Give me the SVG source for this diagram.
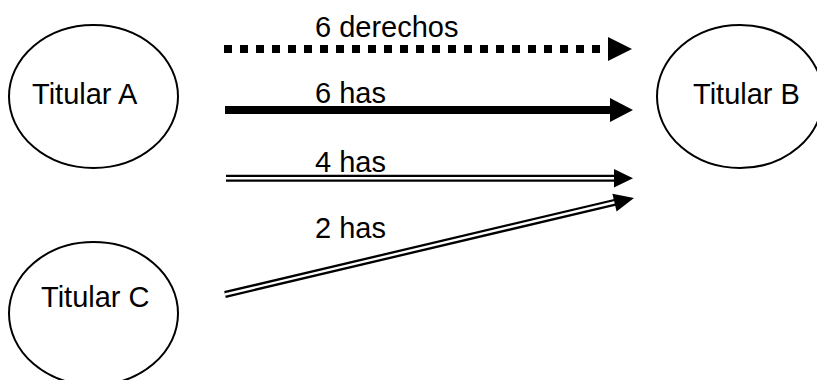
<svg xmlns="http://www.w3.org/2000/svg" width="817" height="380" viewBox="0 0 817 380">
  <style>
    .node ellipse { fill: #ffffff; stroke: #000000; stroke-width: 2; }
    .label { font-family: "Liberation Sans", Arial, sans-serif; font-size: 29px; fill: #000000; }
    .head { fill: #000000; stroke: none; }
    .dbl-outer { stroke: #000000; stroke-width: 7; fill: none; }
    .dbl-inner { stroke: #ffffff; stroke-width: 2.4; fill: none; }
  </style>
  <rect x="0" y="0" width="817" height="380" fill="#ffffff"/>
  <g id="node-titular-a" class="node">
    <ellipse cx="93.5" cy="96.5" rx="84.5" ry="71.5"/>
    <text class="label" x="32" y="104">Titular A</text>
  </g>
  <g id="node-titular-b" class="node">
    <ellipse cx="740" cy="96.5" rx="83" ry="71.5"/>
    <text class="label" x="693" y="104">Titular B</text>
  </g>
  <g id="node-titular-c" class="node">
    <ellipse cx="93.5" cy="313.5" rx="84.5" ry="71.5"/>
    <text class="label" x="41" y="307">Titular C</text>
  </g>
  <g id="connectors">
    <g id="edge-derechos">
      <line x1="224" y1="49" x2="600" y2="49" stroke="#000000" stroke-width="8" stroke-dasharray="8 8"/>
      <polygon class="head" points="608,37 632,49 608,61"/>
      <text class="label" x="315" y="37">6 derechos</text>
    </g>
    <g id="edge-6has">
      <line x1="225" y1="110" x2="612" y2="110" stroke="#000000" stroke-width="8"/>
      <polygon class="head" points="610,98 633,110 610,122"/>
      <text class="label" x="315" y="103">6 has</text>
    </g>
    <g id="edge-4has">
      <line class="dbl-outer" x1="226" y1="178.3" x2="616" y2="178.3"/>
      <line class="dbl-inner" x1="226" y1="178.3" x2="615" y2="178.3"/>
      <polygon class="head" points="614,169 633,178.3 614,187.6"/>
      <text class="label" x="315" y="172">4 has</text>
    </g>
    <g id="edge-2has">
      <line class="dbl-outer" x1="225" y1="294.5" x2="617" y2="201.8"/>
      <line class="dbl-inner" x1="225" y1="294.5" x2="616" y2="202"/>
      <polygon class="head" points="612.4,193.8 634,198 616.6,211.4"/>
      <text class="label" x="315" y="238">2 has</text>
    </g>
  </g>
</svg>
